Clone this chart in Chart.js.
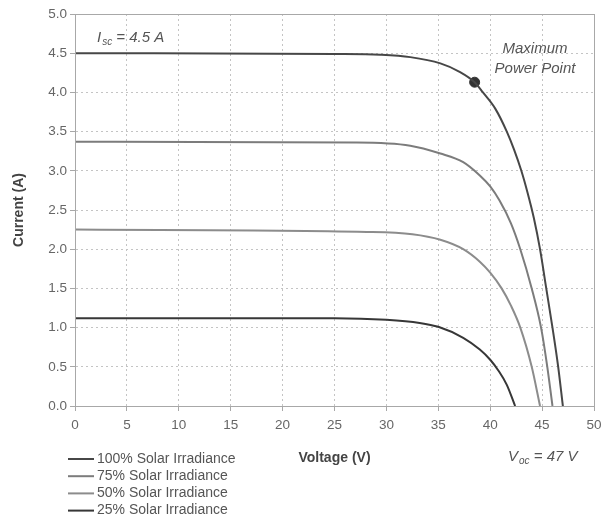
<!DOCTYPE html>
<html>
<head>
<meta charset="utf-8">
<script src="https://cdn.jsdelivr.net/npm/chart.js@4.4.1/dist/chart.umd.min.js"></script>
<style>
  body { margin: 0; background: #fff; }
</style>
</head>
<body>
<canvas id="ivChart" width="601" height="521"></canvas>
<script>
// I-V curves
const seriesLabels = ["100% Solar Irradiance", "75% Solar Irradiance", "50% Solar Irradiance", "25% Solar Irradiance"];

const volts100 = [0, 25, 29.4, 32.3, 35.2, 37.1, 38.5, 39.3, 40.5, 41.6, 42.3, 43.0, 43.6, 44.2, 44.8, 45.4, 46.0, 46.55, 47.0];
const amps100  = [4.50, 4.49, 4.48, 4.45, 4.37, 4.26, 4.13, 4.00, 3.79, 3.50, 3.27, 3.00, 2.72, 2.40, 2.00, 1.50, 1.00, 0.50, 0];

const volts75 = [0, 27, 32.3, 35.2, 37.4, 39.0, 40.0, 40.9, 42.0, 42.9, 44.0, 44.9, 45.5, 46.0];
const amps75  = [3.37, 3.36, 3.32, 3.22, 3.11, 2.94, 2.80, 2.62, 2.33, 2.00, 1.50, 1.00, 0.50, 0];

const volts50 = [0, 28.1, 32.5, 35.2, 37.4, 39.0, 40.0, 41.1, 42.0, 42.9, 44.0, 44.8];
const amps50  = [2.25, 2.22, 2.19, 2.12, 2.00, 1.84, 1.70, 1.50, 1.28, 1.00, 0.50, 0];

const volts25 = [0, 25, 30, 33.2, 35.0, 37.4, 39.0, 40.0, 40.8, 41.6, 42.4];
const amps25  = [1.12, 1.12, 1.10, 1.06, 1.01, 0.87, 0.72, 0.59, 0.45, 0.27, 0];

const mppVolts = [38.5];
const mppAmps = [4.13];

const lineColors = ["#474747", "#7c7c7c", "#8c8c8c", "#373737"];

const toPoints = (vs, is) => vs.map((v, i) => ({ x: v, y: is[i] }));

const curves = [
  toPoints(volts100, amps100),
  toPoints(volts75, amps75),
  toPoints(volts50, amps50),
  toPoints(volts25, amps25),
];

const datasets = curves.map((pts, i) => ({
  label: seriesLabels[i],
  data: pts,
  showLine: true,
  borderColor: lineColors[i],
  borderWidth: 2,
  pointRadius: 0,
  cubicInterpolationMode: "monotone",
}));

datasets.push({
  label: "",
  data: toPoints(mppVolts, mppAmps),
  pointRadius: 5,
  pointBackgroundColor: "#333",
  pointBorderColor: "#333",
  showLine: false,
});

// Texts on the plot, the box border and the stacked legend
const extras = {
  id: "extras",
  afterDraw(chart) {
    const { ctx, chartArea: a } = chart;
    ctx.save();
    ctx.strokeStyle = "#a8a8a8";
    ctx.lineWidth = 1;
    ctx.strokeRect(a.left + 0.5, a.top + 0.5, a.right - a.left, a.bottom - a.top);

    ctx.fillStyle = "#555";
    ctx.textBaseline = "alphabetic";

    const subText = (x, y, main, sub, rest) => {
      ctx.textAlign = "left";
      ctx.font = "italic 15px 'Liberation Sans', Arial";
      ctx.fillText(main, x, y);
      x += ctx.measureText(main).width + 1;
      ctx.font = "italic 10px 'Liberation Sans', Arial";
      ctx.fillText(sub, x, y + 3);
      x += ctx.measureText(sub).width;
      ctx.font = "italic 15px 'Liberation Sans', Arial";
      ctx.fillText(rest, x, y);
    };
    subText(97, 42, "I", "sc", " = 4.5 A");
    subText(508, 461, "V", "oc", " = 47 V");

    ctx.textAlign = "center";
    ctx.font = "italic 15px 'Liberation Sans', Arial";
    ctx.fillText("Maximum", 535, 53);
    ctx.fillText("Power Point", 535, 73);

    // legend
    ctx.textAlign = "left";
    ctx.textBaseline = "middle";
    ctx.font = "14px 'Liberation Sans', Arial";
    seriesLabels.forEach((lab, i) => {
      const y = 459 + i * 17.2;
      ctx.strokeStyle = lineColors[i];
      ctx.lineWidth = 2;
      ctx.beginPath();
      ctx.moveTo(68, y);
      ctx.lineTo(94, y);
      ctx.stroke();
      ctx.fillStyle = "#555";
      ctx.fillText(lab, 97, y);
    });
    ctx.restore();
  },
};

new Chart(document.getElementById("ivChart"), {
  type: "scatter",
  data: { datasets },
  options: {
    responsive: false,
    animation: false,
    layout: { padding: { top: 14, right: 7, left: 0, bottom: 0 } },
    plugins: {
      legend: { display: false },
      tooltip: { enabled: false },
    },
    scales: {
      x: {
        type: "linear",
        min: 0,
        max: 50,
        afterFit: (scale) => {
          scale.height = 115;
          scale.paddingLeft = 0;
          scale.paddingRight = 0;
        },
        ticks: {
          stepSize: 5,
          color: "#666",
          padding: 6,
          font: { family: "'Liberation Sans', Arial", size: 13.5 },
        },
        grid: { color: "#c4c4c4", tickLength: 5, tickColor: "#a8a8a8" },
        border: { color: "#a8a8a8", dash: [2, 3] },
        title: {
          display: true,
          text: "Voltage (V)",
          color: "#444",
          font: { family: "'Liberation Sans', Arial", size: 14, weight: "bold" },
          padding: { top: 0, bottom: 54 },
        },
      },
      y: {
        min: 0,
        max: 5,
        afterFit: (scale) => { scale.width = 75; },
        ticks: {
          stepSize: 0.5,
          color: "#666",
          padding: 3,
          font: { family: "'Liberation Sans', Arial", size: 13.5 },
          callback: (v) => v.toFixed(1),
        },
        grid: { color: "#c4c4c4", tickLength: 5, tickColor: "#a8a8a8" },
        border: { color: "#a8a8a8", dash: [2, 3] },
        title: {
          display: true,
          text: "Current (A)",
          color: "#444",
          font: { family: "'Liberation Sans', Arial", size: 14, weight: "bold" },
          padding: { top: 11, bottom: 0 },
        },
      },
    },
  },
  plugins: [extras],
});
</script>
</body>
</html>
